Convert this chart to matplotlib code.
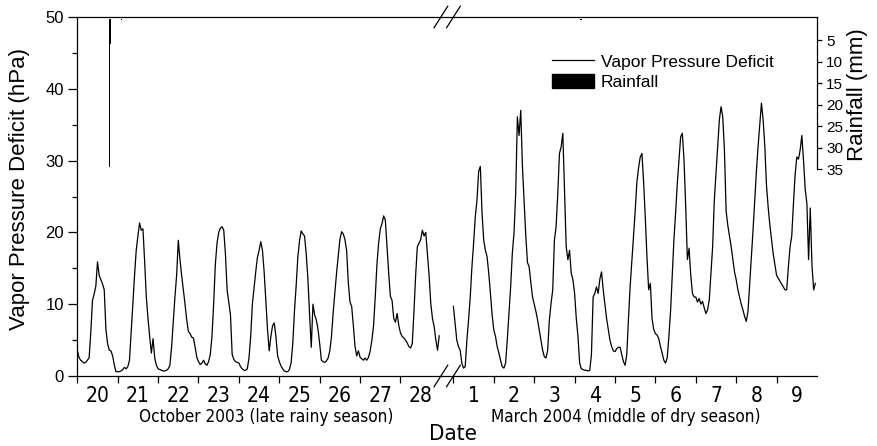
import matplotlib
matplotlib.use("Agg")
import numpy as np
import matplotlib.pyplot as plt
from matplotlib.lines import Line2D
from matplotlib.patches import Patch

plt.rcParams["font.family"] = ["Liberation Sans", "DejaVu Sans"]
NARROW = dict(family=["Liberation Sans Narrow", "DejaVu Sans"], fontstretch="condensed")

# hourly vapor pressure deficit (hPa), one row per day
oct_days = [20, 21, 22, 23, 24, 25, 26, 27, 28]
oct_vpd = [
    [3.6, 2.6, 2.2, 2.0, 1.8, 1.9, 2.2, 2.5, 6.0, 10.5, 11.4, 12.5, 15.9, 14.0, 13.4, 12.8, 12.0, 6.5, 4.5, 3.6, 3.5, 2.8, 1.5, 0.6],
    [0.6, 0.6, 0.7, 0.9, 1.2, 1.0, 1.3, 2.2, 6.0, 10.0, 14.0, 17.5, 19.5, 21.3, 20.3, 20.5, 16.0, 11.0, 8.0, 5.5, 3.2, 5.2, 2.5, 1.5],
    [1.0, 0.9, 0.8, 0.7, 0.7, 0.8, 1.0, 1.5, 4.0, 7.5, 11.0, 14.0, 18.9, 16.2, 14.0, 12.0, 10.0, 7.8, 6.2, 5.9, 5.4, 5.3, 4.0, 2.6],
    [2.0, 1.6, 1.8, 2.2, 1.7, 1.5, 2.0, 3.0, 5.5, 10.0, 15.5, 18.5, 20.0, 20.6, 20.8, 20.3, 17.0, 12.0, 10.3, 8.5, 3.0, 2.3, 2.0, 1.9],
    [1.8, 1.3, 1.0, 0.8, 0.8, 1.0, 2.5, 5.5, 10.0, 12.3, 14.5, 16.5, 17.5, 18.7, 17.5, 14.5, 10.5, 6.5, 3.5, 5.5, 7.0, 7.4, 5.5, 2.8],
    [2.0, 1.4, 1.0, 0.7, 0.6, 0.6, 0.9, 1.8, 4.5, 9.0, 12.5, 16.5, 18.8, 20.2, 19.8, 19.5, 17.0, 13.5, 8.5, 4.0, 10.0, 8.5, 7.8, 6.5],
    [4.5, 2.2, 2.0, 1.9, 2.1, 2.5, 3.5, 5.5, 8.8, 11.5, 14.3, 16.6, 19.0, 20.1, 19.8, 19.0, 17.5, 13.0, 10.3, 9.7, 7.0, 4.1, 2.8, 3.5],
    [2.6, 2.4, 2.2, 2.5, 2.2, 2.6, 3.5, 5.0, 7.0, 11.0, 15.5, 18.5, 20.5, 21.2, 22.3, 21.7, 18.0, 14.3, 11.1, 10.5, 8.0, 7.5, 8.7, 7.0],
    [6.0, 5.5, 5.3, 5.0, 4.6, 4.1, 3.9, 4.5, 9.0, 14.0, 18.0, 18.5, 19.0, 20.3, 19.5, 20.0, 17.0, 14.0, 10.1, 8.0, 6.9, 5.0, 3.6, 5.6],
]
mar_days = [1, 2, 3, 4, 5, 6, 7, 8, 9]
mar_vpd = [
    [9.7, 7.3, 5.0, 4.1, 3.6, 1.8, 1.1, 1.3, 5.0, 7.8, 11.0, 15.2, 18.5, 22.2, 24.5, 28.5, 29.2, 22.7, 18.9, 17.5, 16.6, 14.3, 11.5, 8.5],
    [6.4, 5.5, 4.1, 3.2, 2.2, 1.3, 1.1, 1.8, 5.0, 8.7, 12.4, 17.1, 19.9, 25.4, 36.1, 33.5, 37.0, 29.2, 24.5, 19.5, 15.8, 15.2, 13.0, 11.0],
    [10.0, 9.0, 7.8, 6.4, 5.0, 3.6, 2.7, 2.5, 3.6, 7.8, 10.1, 12.0, 18.9, 20.8, 25.4, 31.0, 31.9, 33.8, 26.0, 18.0, 16.2, 17.5, 14.3, 13.4],
    [11.5, 8.0, 5.5, 1.8, 1.0, 0.9, 0.8, 0.8, 0.7, 0.8, 3.0, 11.0, 11.5, 12.4, 11.5, 13.5, 14.5, 12.0, 10.0, 8.0, 6.5, 5.0, 4.1, 3.5],
    [3.4, 3.8, 4.0, 4.0, 3.0, 2.0, 1.5, 3.0, 8.0, 12.5, 16.0, 19.5, 23.0, 27.0, 29.0, 30.5, 31.0, 27.0, 22.0, 16.5, 12.0, 12.9, 8.0, 6.5],
    [5.9, 5.7, 5.2, 4.1, 3.2, 2.2, 1.8, 2.5, 5.5, 9.0, 14.0, 19.0, 22.7, 26.8, 30.1, 33.3, 33.8, 30.1, 23.6, 16.2, 17.8, 14.0, 11.5, 11.0],
    [11.0, 10.3, 10.8, 10.0, 10.4, 9.5, 8.7, 9.2, 10.6, 14.3, 18.0, 24.5, 28.2, 31.9, 35.7, 37.5, 36.1, 31.5, 23.0, 21.0, 19.5, 18.0, 16.2, 14.5],
    [13.4, 12.0, 11.0, 10.0, 9.2, 8.3, 7.6, 9.0, 12.8, 16.5, 20.3, 24.5, 28.5, 32.0, 35.0, 38.0, 35.7, 32.0, 26.5, 23.5, 21.0, 19.0, 17.0, 15.5],
    [14.0, 13.6, 13.2, 12.8, 12.4, 12.0, 12.0, 15.2, 18.0, 19.5, 24.0, 28.0, 30.5, 30.2, 31.5, 33.5, 30.0, 26.0, 24.0, 16.2, 23.4, 15.5, 12.0, 12.9],
]

# rainfall events (mm)
rain_oct_day = [20, 20, 21]
rain_oct_hour = [19.0, 19.5, 2.0]
rain_oct_mm = [34.5, 6.0, 0.3]
rain_mar_day = [4, 4]
rain_mar_hour = [3.0, 3.5]
rain_mar_mm = [0.4, 0.3]

oct_labels = [str(d) for d in oct_days]
mar_labels = [str(d) for d in mar_days]

GAP = 0.31  # width of the axis break, in days


def oct_x(day, hour):
    return (day - oct_days[0]) + hour / 24.0


def mar_x(day, hour):
    return len(oct_days) + GAP + (day - mar_days[0]) + hour / 24.0


hours = np.arange(24)
x_oct = np.concatenate([oct_x(d, hours) for d in oct_days])
x_mar = np.concatenate([mar_x(d, hours) for d in mar_days])
y_oct = np.concatenate(oct_vpd)
y_mar = np.concatenate(mar_vpd)

fig = plt.figure(figsize=(8.77, 4.46), dpi=100)
ax = fig.add_axes([77.3 / 877, 1 - 376 / 446, 739.7 / 877, 359 / 446])
ax2 = ax.twinx()

ax.plot(x_oct, y_oct, color="black", lw=0.9)
ax.plot(x_mar, y_mar, color="black", lw=0.9)

rx = [oct_x(d, h) for d, h in zip(rain_oct_day, rain_oct_hour)] + \
     [mar_x(d, h) for d, h in zip(rain_mar_day, rain_mar_hour)]
ax2.bar(rx, rain_oct_mm + rain_mar_mm, width=0.025, color="black", align="edge")

xmax = len(oct_days) + GAP + len(mar_days)
ax.set_xlim(0, xmax)
ax.set_ylim(0, 50)
ax2.set_ylim(83.1, -0.35)

# y axis
ax.set_yticks([0, 10, 20, 30, 40, 50])
ax.set_yticks([5, 15, 25, 35, 45], minor=True)
ax.tick_params(axis="y", which="major", direction="out", length=6.5, width=0.9,
               labelsize=12, pad=3)
ax.tick_params(axis="y", which="minor", direction="out", length=3.3, width=0.9)

# x axis: ticks at day boundaries, labels at day centres
major = [oct_x(d, 0) for d in oct_days] + [mar_x(d, 0) for d in mar_days]
centres = [oct_x(d, 12) for d in oct_days] + [mar_x(d, 12) for d in mar_days]
ax.set_xticks(major)
ax.set_xticklabels([])
ax.set_xticks(centres, minor=True)
ax.set_xticklabels(oct_labels + mar_labels, minor=True, fontsize=15, **NARROW)
ax.tick_params(axis="x", which="major", direction="out", length=5, width=0.9)
ax.tick_params(axis="x", which="minor", length=0, pad=7)

# right axis (rainfall, inverted)
ax2.set_yticks([5, 10, 15, 20, 25, 30, 35])
ax2.tick_params(axis="y", direction="out", length=3.6, width=0.9, labelsize=11, pad=3)
ax2.spines["right"].set_bounds(-0.35, 35)
for sp in ["left", "bottom", "top"]:
    ax2.spines[sp].set_visible(False)
ax.spines["right"].set_visible(False)
for sp in ["left", "bottom", "top"]:
    ax.spines[sp].set_linewidth(0.9)
ax2.spines["right"].set_linewidth(0.9)

# break marks
trans = ax.get_xaxis_transform()
dx = 0.17
dy = 0.03
for xb in [len(oct_days), len(oct_days) + GAP]:
    for yb in [0, 1]:
        ax.plot([xb - dx, xb + dx], [yb - dy, yb + dy], color="black", lw=0.9,
                transform=trans, clip_on=False)

# labels
fig.text(20 / 877, 1 - 189 / 446, "Vapor Pressure Deficit (hPa)", rotation=90,
         ha="center", va="center", fontsize=16)
fig.text(858 / 877, 1 - 95 / 446, "Rainfall (mm)", rotation=90,
         ha="center", va="center", fontsize=16)
fig.text(266 / 877, 1 - 417 / 446, "October 2003 (late rainy season)",
         ha="center", va="center", fontsize=12.3, **NARROW)
fig.text(626 / 877, 1 - 417 / 446, "March 2004 (middle of dry season)",
         ha="center", va="center", fontsize=12.3, **NARROW)
fig.text(453 / 877, 1 - 434 / 446, "Date", ha="center", va="center",
         fontsize=16, **NARROW)

handles = [Line2D([], [], color="black", lw=0.9), Patch(facecolor="black", edgecolor="black")]
ax.legend(handles, ["Vapor Pressure Deficit", "Rainfall"], loc="upper left",
          bbox_to_anchor=((552 - 77.3) / 739.7, 1 - (54 - 17) / 359),
          frameon=False, fontsize=12.5, handlelength=2.4, handleheight=0.85,
          handletextpad=0.4, labelspacing=0.25, borderpad=0, borderaxespad=0)

fig.savefig("out.png", dpi=100)
